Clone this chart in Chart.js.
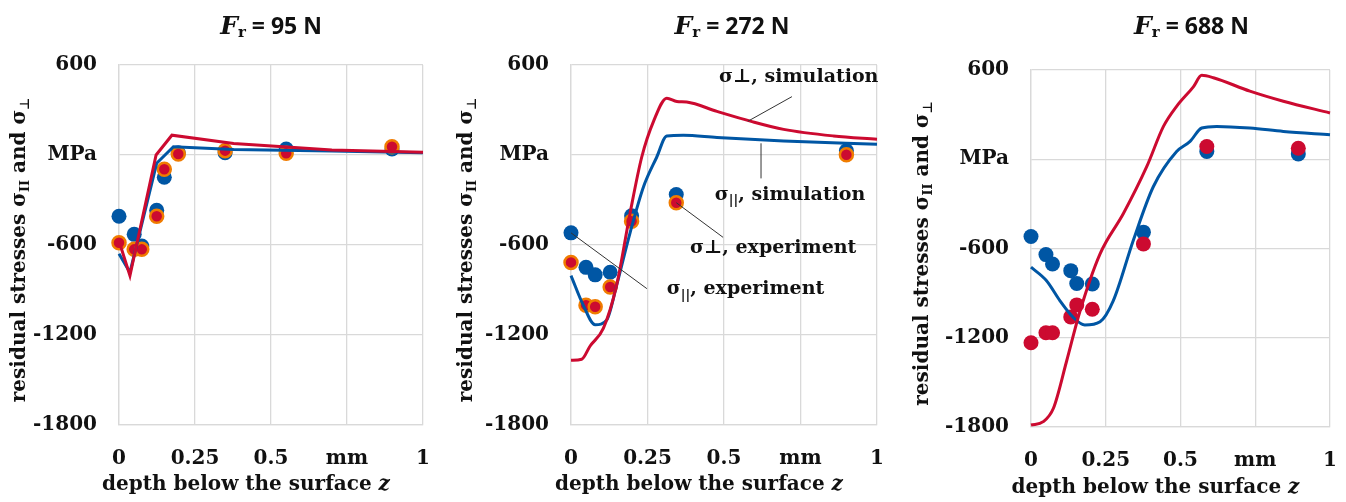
<!DOCTYPE html>
<html>
<head>
<meta charset="utf-8">
<script src="https://cdn.jsdelivr.net/npm/chart.js@4.4.0/dist/chart.umd.min.js"></script>
<style>
  body { margin: 0; background: #fff; width: 1346px; height: 502px; overflow: hidden; position: relative; }
  .panel { position: absolute; top: 0; height: 502px; }
</style>
</head>
<body>
<div class="panel" style="left:0;width:450px"><canvas id="c95"></canvas></div>
<div class="panel" style="left:450px;width:450px"><canvas id="c272"></canvas></div>
<div class="panel" style="left:900px;width:446px"><canvas id="c688"></canvas></div>
<script>
// axis ticks shared by the three panels
const xTicks = [0, 0.25, 0.5, 0.75, 1];
const xTickLabels = ['0', '0.25', '0.5', 'mm', '1'];
const yTicks = [600, 0, -600, -1200, -1800];
const yTickLabels = ['600', 'MPa', '-600', '-1200', '-1800'];

// Fr = 95 N
const depthExp95 = [0, 0.05, 0.075, 0.124, 0.149, 0.195, 0.349, 0.55, 0.898];
const parExp95 = [-408, -529, -607, -368, -148, 15, 15, 40, 40];
const perpExp95 = [-585, -629, -629, -408, -95, 7, 29, 11, 55];
const depthParSim95 = [0, 0.036, 0.124, 0.179, 0.377, 0.7, 1];
const parSim95 = [-659, -783, -55, 55, 37, 26, 15];
const depthPerpSim95 = [0, 0.036, 0.122, 0.174, 0.377, 0.54, 0.7, 1];
const perpSim95 = [-573, -804, 0, 132, 77, 55, 33, 18];

// Fr = 272 N
const depthExp272 = [0, 0.049, 0.079, 0.128, 0.198, 0.344, 0.9];
const parExp272 = [-519, -749, -799, -782, -405, -263, 28];
const perpExp272 = [-716, -1001, -1012, -880, -442, -318, 2];
const depthParSim272 = [0, 0.04, 0.079, 0.117, 0.149, 0.193, 0.237, 0.28, 0.313, 0.367, 0.477, 0.695, 1];
const parSim272 = [-804, -1001, -1132, -1099, -869, -519, -212, -15, 127, 131, 116, 94, 72];
const depthPerpSim272 = [0, 0.035, 0.062, 0.106, 0.149, 0.193, 0.231, 0.27, 0.313, 0.346, 0.378, 0.477, 0.586, 0.695, 0.858, 1];
const perpSim272 = [-1369, -1362, -1275, -1154, -869, -388, -15, 226, 379, 357, 353, 291, 226, 171, 127, 105];

// Fr = 688 N
const depthExp688 = [0, 0.05, 0.072, 0.133, 0.153, 0.205, 0.376, 0.588, 0.894];
const parExp688 = [-519, -641, -704, -749, -835, -839, -490, 52, 36];
const perpExp688 = [-1234, -1166, -1166, -1060, -979, -1008, -569, 86, 74];
const depthParSim688 = [0, 0.052, 0.097, 0.142, 0.18, 0.231, 0.275, 0.342, 0.409, 0.487, 0.532, 0.571, 0.621, 0.732, 0.844, 1];
const parSim688 = [-726, -817, -952, -1065, -1114, -1092, -952, -546, -185, 52, 120, 210, 221, 210, 187, 165];
const depthPerpSim688 = [0, 0.041, 0.075, 0.119, 0.164, 0.231, 0.309, 0.387, 0.443, 0.487, 0.543, 0.571, 0.61, 0.732, 0.844, 1];
const perpSim688 = [-1787, -1764, -1674, -1358, -1020, -636, -365, -50, 221, 356, 487, 564, 548, 458, 390, 311];

const BLUE = '#0056a4';
const RED = '#cc0a30';
const ORANGE = '#f07c00';
const GRID = '#d9d9d9';
const SERIF = '"DejaVu Serif", serif';
const NUMFONT = 'DejaVu Serif';

const pts = (xs, ys) => xs.map((x, i) => ({ x: x, y: ys[i] }));

function drawRuns(ctx, runs, x, y, align) {
    let total = 0;
    runs.forEach(r => { ctx.font = r.font; r.w = ctx.measureText(r.t).width; total += r.w; });
    let cx = align === 'center' ? x - total / 2 : x;
    runs.forEach(r => { ctx.font = r.font; ctx.fillText(r.t, cx, y + (r.dy || 0)); cx += r.w; });
}

// titles, axis titles with sub-scripts and the call-outs
const panelText = {
    id: 'panelText',
    afterDraw(chart, args, opts) {
        const ctx = chart.ctx;
        const a = chart.chartArea;
        const xs = chart.scales.x, ys = chart.scales.y;
        ctx.save();
        ctx.fillStyle = '#111';
        ctx.textBaseline = 'middle';
        const mid = (a.left + a.right) / 2;
        drawRuns(ctx, [
            { t: 'F', font: 'italic bold 25px "DejaVu Serif"' },
            { t: 'r', font: 'bold 15px "DejaVu Serif"', dy: 6 },
            { t: ' = ' + opts.force + ' N', font: 'bold 23px "Open Sans"' }
        ], mid + opts.titleShift, 27, 'center');

        drawRuns(ctx, [
            { t: 'depth below the surface ', font: 'bold 20px ' + SERIF },
            { t: 'z', font: 'italic bold 20px ' + SERIF }
        ], mid - 25, opts.xTitleY, 'center');

        ctx.save();
        ctx.translate(opts.yTitleX, (a.top + a.bottom) / 2 + 5);
        ctx.rotate(-Math.PI / 2);
        drawRuns(ctx, [
            { t: 'residual stresses σ', font: 'bold 20px ' + SERIF },
            { t: 'II', font: 'bold 13px ' + SERIF, dy: 6 },
            { t: ' and σ', font: 'bold 20px ' + SERIF },
            { t: '⊥', font: 'bold 13px "DejaVu Sans"', dy: 6 }
        ], 0, 0, 'center');
        ctx.restore();

        (opts.notes || []).forEach(n => {
            ctx.strokeStyle = '#333';
            ctx.lineWidth = 1;
            ctx.beginPath();
            ctx.moveTo(xs.getPixelForValue(n.from[0]), ys.getPixelForValue(n.from[1]));
            ctx.lineTo(xs.getPixelForValue(n.to[0]), ys.getPixelForValue(n.to[1]));
            ctx.stroke();
            drawRuns(ctx, n.runs, xs.getPixelForValue(n.at[0]), ys.getPixelForValue(n.at[1]), 'left');
        });
        ctx.restore();
    }
};

function makePanel(id, p) {
    const ctx = document.getElementById(id).getContext('2d');
    new Chart(ctx, {
        type: 'scatter',
        data: {
            datasets: [
                { data: pts(p.perpSimX, p.perpSimY), showLine: true, borderColor: RED, borderWidth: 3, pointRadius: 0, cubicInterpolationMode: p.smooth ? 'monotone' : 'default' },
                { data: pts(p.parSimX, p.parSimY), showLine: true, borderColor: BLUE, borderWidth: 3, pointRadius: 0, cubicInterpolationMode: p.smooth ? 'monotone' : 'default' },
                { data: pts(p.expX, p.perpExp), pointRadius: p.ring ? 6.5 : 7.5, backgroundColor: RED, borderColor: p.ring ? ORANGE : RED, borderWidth: p.ring ? 2.5 : 0 },
                { data: pts(p.expX, p.parExp), pointRadius: 7.5, backgroundColor: BLUE, borderWidth: 0 }
            ]
        },
        options: {
            responsive: true,
            maintainAspectRatio: false,
            animation: false,
            events: [],
            datasets: { scatter: { clip: false } },
            layout: { padding: { top: p.top, right: p.right, left: 0, bottom: 0 } },
            plugins: {
                legend: { display: false },
                tooltip: { enabled: false },
                panelText: { force: p.force, titleShift: p.titleShift, xTitleY: p.xTitleY, yTitleX: p.yTitleX, notes: p.notes }
            },
            scales: {
                x: {
                    type: 'linear', min: 0, max: 1,
                    afterBuildTicks: s => { s.ticks = xTicks.map(v => ({ value: v })); },
                    afterFit: s => { s.height = p.xHeight; s.paddingLeft = 0; s.paddingRight = 0; },
                    ticks: {
                        callback: v => xTickLabels[xTicks.indexOf(v)],
                        font: { family: NUMFONT, size: 20, weight: 'bold' }, color: '#111',
                        padding: 22, maxRotation: 0, autoSkip: false
                    },
                    grid: { color: GRID, lineWidth: 1.3, drawTicks: false },
                    border: { color: GRID, width: 1.3 }
                },
                y: {
                    min: -1800, max: 600,
                    afterBuildTicks: s => { s.ticks = yTicks.map(v => ({ value: v })); },
                    afterFit: s => { s.width = p.yWidth; s.paddingTop = 0; s.paddingBottom = 0; },
                    ticks: {
                        callback: v => yTickLabels[yTicks.indexOf(v)],
                        font: { family: NUMFONT, size: 20, weight: 'bold' }, color: '#111',
                        padding: 22, autoSkip: false
                    },
                    grid: { color: GRID, lineWidth: 1.3, drawTicks: false },
                    border: { color: GRID, width: 1.3 }
                }
            }
        },
        plugins: [panelText]
    });
}

const bigFont = 'bold 19px ' + SERIF;
const subFont = 'bold 13px ' + SERIF;

makePanel('c95', {
    force: 95, top: 65, right: 27, yWidth: 119, xHeight: 77, titleShift: 0, xTitleY: 485, yTitleX: 20, ring: true, smooth: false,
    expX: depthExp95, parExp: parExp95, perpExp: perpExp95,
    parSimX: depthParSim95, parSimY: parSim95, perpSimX: depthPerpSim95, perpSimY: perpSim95
});

makePanel('c272', {
    force: 272, top: 65, right: 23, yWidth: 121, xHeight: 77, titleShift: 8, xTitleY: 485, yTitleX: 17, ring: true, smooth: true,
    expX: depthExp272, parExp: parExp272, perpExp: perpExp272,
    parSimX: depthParSim272, parSimY: parSim272, perpSimX: depthPerpSim272, perpSimY: perpSim272,
    notes: [
        { at: [0.484, 521], from: [0.722, 389], to: [0.578, 225], runs: [{ t: 'σ⊥, simulation', font: bigFont }] },
        { at: [0.47, -267], from: [0.621, 78], to: [0.621, -156], runs: [{ t: 'σ', font: bigFont }, { t: '||', font: subFont, dy: 6 }, { t: ', simulation', font: bigFont }] },
        { at: [0.389, -622], from: [0.344, -318], to: [0.497, -549], runs: [{ t: 'σ⊥, experiment', font: bigFont }] },
        { at: [0.313, -895], from: [0, -519], to: [0.248, -891], runs: [{ t: 'σ', font: bigFont }, { t: '||', font: subFont, dy: 6 }, { t: ', experiment', font: bigFont }] }
    ]
});

makePanel('c688', {
    force: 688, top: 70, right: 16, yWidth: 131, xHeight: 75, titleShift: 11, xTitleY: 488, yTitleX: 23, ring: false, smooth: true,
    expX: depthExp688, parExp: parExp688, perpExp: perpExp688,
    parSimX: depthParSim688, parSimY: parSim688, perpSimX: depthPerpSim688, perpSimY: perpSim688
});
</script>
</body>
</html>
